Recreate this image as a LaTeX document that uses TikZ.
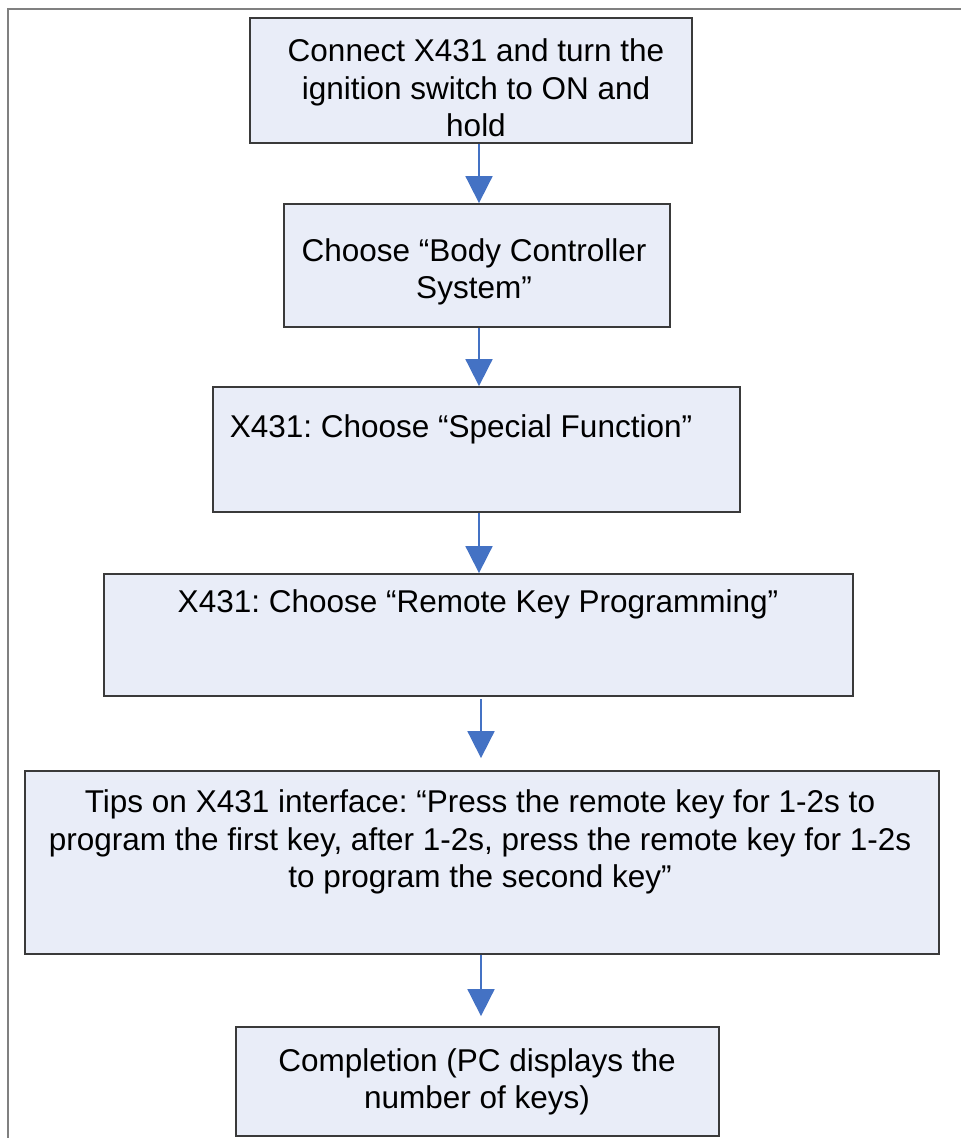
\documentclass[tikz,border=0pt]{standalone}
\usepackage{fontspec}
\setmainfont{Liberation Sans}
\usepackage{xcolor}
\usetikzlibrary{arrows.meta,calc}
\frenchspacing

\definecolor{boxfill}{HTML}{E9EDF8}
\definecolor{boxline}{HTML}{3A3A3A}
\definecolor{framegray}{HTML}{808080}
\definecolor{arrowblue}{HTML}{4472C4}

\begin{document}
\begin{tikzpicture}[x=1pt,y=-1pt,line join=miter,
    stepbox/.style={draw=boxline,fill=boxfill,line width=1.8pt,inner sep=0pt,rectangle},
    steptext/.style={align=center,inner sep=0pt,font=\fontsize{31.5}{37.5}\selectfont},
    flowarrow/.style={draw=arrowblue,line width=1.8pt,-{Triangle[width=27pt,length=27pt]}}]
  \useasboundingbox (0,0) rectangle (961,1138);
  \coordinate (FL) at (8,1138);
  \coordinate (FC) at (8,9);
  \coordinate (FR) at (961,9);
  \coordinate (AX) at (479,0);
  \coordinate (AY) at (481,0);
  \draw[framegray,line width=1.8pt] (FL) -- (FC) -- (FR);
  % boxes
  \node[stepbox,minimum width=442pt,minimum height=125pt] (B1) at (471,80.5) {};
  \node[stepbox,minimum width=386pt,minimum height=123pt] (B2) at (477,265.5) {};
  \node[stepbox,minimum width=527pt,minimum height=125pt] (B3) at (476.5,449.5) {};
  \node[stepbox,minimum width=749pt,minimum height=122pt] (B4) at (478.5,635) {};
  \node[stepbox,minimum width=914pt,minimum height=183pt] (B5) at (482,862.5) {};
  \node[stepbox,minimum width=483pt,minimum height=109pt] (B6) at (477.5,1081.5) {};
  % texts
  \node[steptext] (T1) at (476,88) {Connect X431 and turn the\\ignition switch to ON and\\hold};
  \node[steptext] (T2) at (474,272) {Choose “Body Controller\\System”};
  \node[steptext] (T3) at (461,429) {X431: Choose “Special Function”};
  \node[steptext] (T4) at (478,604) {X431: Choose “Remote Key Programming”};
  \node[steptext] (T5) at (480,842) {Tips on X431 interface: “Press the remote key for 1-2s to\\program the first key, after 1-2s, press the remote key for 1-2s\\to program the second key”};
  \node[steptext] (T6) at (477,1082) {Completion (PC displays the\\number of keys)};
  % arrows
  \draw[flowarrow] (B1.south -| AX) -- (B2.north -| AX);
  \draw[flowarrow] (B2.south -| AX) -- (B3.north -| AX);
  \draw[flowarrow] (B3.south -| AX) -- (B4.north -| AX);
  \draw[flowarrow,shorten <=2pt,shorten >=12pt] (B4.south -| AY) -- (B5.north -| AY);
  \draw[flowarrow,shorten >=10pt] (B5.south -| AY) -- (B6.north -| AY);
\end{tikzpicture}
\end{document}
